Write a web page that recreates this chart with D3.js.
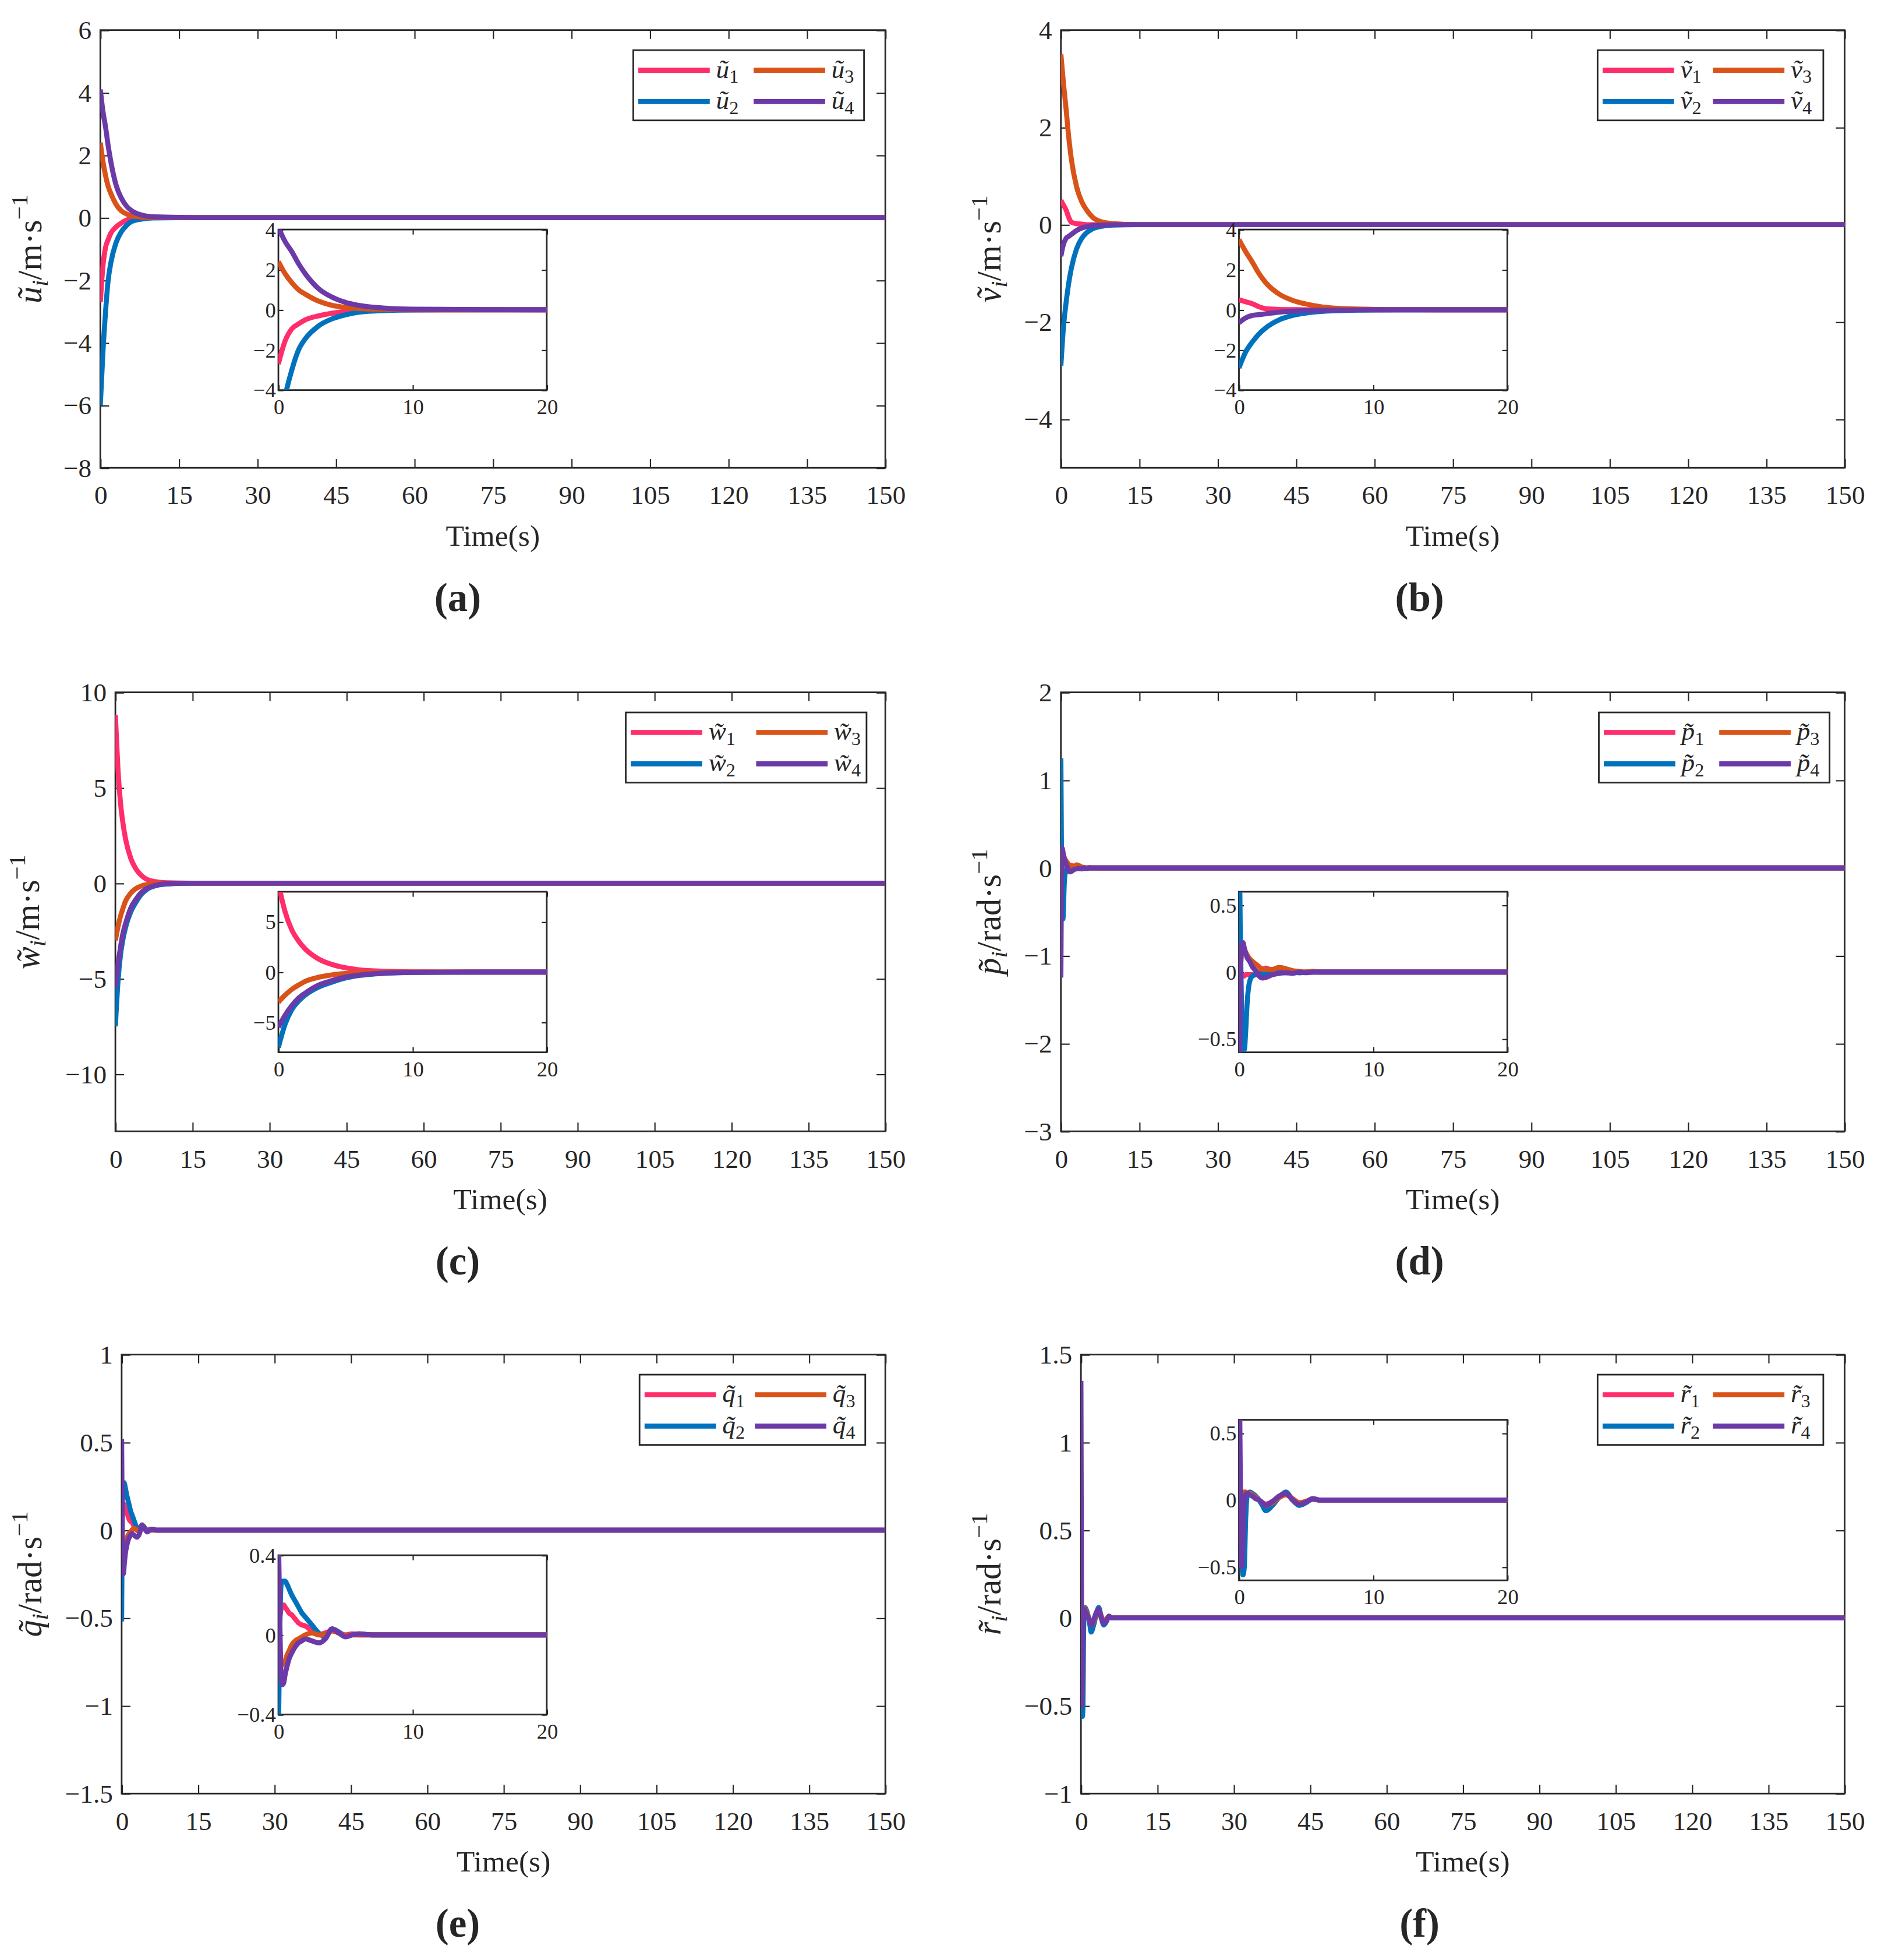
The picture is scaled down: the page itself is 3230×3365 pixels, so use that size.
<!DOCTYPE html>
<html>
<head>
<meta charset="utf-8">
<script src="https://cdn.jsdelivr.net/npm/d3@7/dist/d3.min.js"></script>
<style>
  body { margin: 0; background: #fff; }
  svg { display: block; }
  text { font-family: "Liberation Serif", "DejaVu Serif", serif; fill: #262626; }
</style>
</head>
<body>
<svg id="fig"></svg>
<script>
// ---- data ----
const tSlow = [0, 0.5, 1, 1.5, 2, 3, 4, 5, 6, 8, 10, 15, 20, 150];
const tFast = [0, 0.1, 0.2, 0.3, 0.4, 0.5, 0.6, 0.8, 1, 1.25, 1.5, 1.75, 2, 2.5, 3, 3.5, 4, 4.5, 5, 5.5, 6, 7, 8, 10, 20, 150];

const xTicks = [0, 15, 30, 45, 60, 75, 90, 105, 120, 135, 150];
const insetXTicks = [0, 10, 20];

// (a) surge velocity errors
const u1 = [-2.7, -1.55, -0.95, -0.7, -0.5, -0.3, -0.17, -0.08, -0.03, -0.01, 0, 0, 0, 0];
const u2 = [-6.0, -4.3, -3.0, -2.0, -1.45, -0.8, -0.45, -0.25, -0.12, -0.04, -0.01, 0, 0, 0];
const u3 = [2.4, 1.8, 1.35, 1.0, 0.78, 0.43, 0.22, 0.12, 0.06, 0.02, 0, 0, 0, 0];
const u4 = [4.1, 3.4, 2.9, 2.3, 1.8, 1.05, 0.63, 0.37, 0.22, 0.08, 0.03, 0.01, 0, 0];
const yTicksA = [-8, -6, -4, -2, 0, 2, 4, 6];
const insetYTicksA = [-4, -2, 0, 2, 4];

// (b) sway velocity errors
const v1 = [0.5, 0.4, 0.3, 0.15, 0.05, 0.02, 0.01, 0, 0, 0, 0, 0, 0, 0];
const v2 = [-2.9, -2.1, -1.6, -1.2, -0.9, -0.5, -0.28, -0.16, -0.09, -0.03, -0.01, 0, 0, 0];
const v3 = [3.5, 2.9, 2.37, 1.8, 1.35, 0.78, 0.47, 0.29, 0.16, 0.05, 0.02, 0, 0, 0];
const v4 = [-0.65, -0.4, -0.28, -0.24, -0.2, -0.12, -0.07, -0.04, -0.02, -0.01, 0, 0, 0, 0];
const yTicksB = [-4, -2, 0, 2, 4];
const insetYTicksB = [-4, -2, 0, 2, 4];

// (c) heave velocity errors
const w1 = [8.8, 6.0, 4.2, 3.1, 2.3, 1.3, 0.75, 0.42, 0.22, 0.07, 0.02, 0, 0, 0];
const w2 = [-7.5, -5.2, -3.75, -2.9, -2.3, -1.5, -1.0, -0.6, -0.35, -0.12, -0.04, 0, 0, 0];
const w3 = [-3.0, -2.3, -1.73, -1.3, -0.93, -0.52, -0.28, -0.15, -0.08, -0.02, 0, 0, 0, 0];
const w4 = [-5.5, -4.3, -3.35, -2.6, -2.1, -1.3, -0.85, -0.5, -0.3, -0.1, -0.03, 0, 0, 0];
const yTicksC = [-10, -5, 0, 5, 10];
const insetYTicksC = [-5, 0, 5];

// (d) roll rate errors
const p1 = [0.3, -0.02, -0.03, -0.03, -0.03, -0.02, -0.02, -0.02, -0.02, -0.01, 0, 0.02, 0.03, 0.01, 0, 0.005, 0, -0.005, 0, 0, 0, 0, 0, 0, 0, 0];
const p2 = [1.25, 0.3, -0.3, -0.52, -0.58, -0.45, -0.25, -0.07, -0.03, -0.02, -0.015, -0.01, -0.01, -0.01, -0.005, -0.005, 0, -0.005, 0, 0, 0, 0, 0, 0, 0, 0];
const p3 = [-0.3, 0, 0.15, 0.19, 0.17, 0.15, 0.13, 0.1, 0.08, 0.06, 0.04, 0.02, 0.02, 0.02, 0.035, 0.025, 0.01, 0.005, 0, 0.005, 0, 0, 0, 0, 0, 0];
const p4 = [-1.25, -0.2, 0.2, 0.22, 0.18, 0.14, 0.11, 0.08, 0.04, 0.01, -0.03, -0.045, -0.04, -0.02, -0.01, -0.005, -0.01, 0, -0.005, 0, 0, 0, 0, 0, 0, 0];
const yTicksD = [-3, -2, -1, 0, 1, 2];
const insetYTicksD = [-0.5, 0, 0.5];

// (e) pitch rate errors
const q1 = [0, 0.08, 0.13, 0.15, 0.15, 0.14, 0.13, 0.11, 0.1, 0.08, 0.06, 0.05, 0.045, 0.02, 0, 0.01, 0.02, 0.01, 0, 0.005, 0, 0, 0, 0, 0, 0];
const q2 = [-0.52, 0, 0.25, 0.27, 0.27, 0.27, 0.26, 0.23, 0.2, 0.17, 0.14, 0.11, 0.09, 0.05, 0.01, -0.01, 0.03, 0.015, -0.005, 0, 0.005, 0, 0, 0, 0, 0];
const q3 = [0, -0.08, -0.14, -0.15, -0.14, -0.13, -0.11, -0.08, -0.05, -0.03, -0.02, -0.01, 0, 0.01, 0, 0, 0.02, 0.01, -0.005, 0, 0, 0, 0, 0, 0, 0];
const q4 = [0.52, 0.1, -0.2, -0.25, -0.24, -0.2, -0.17, -0.12, -0.09, -0.06, -0.04, -0.03, -0.02, -0.03, -0.04, -0.02, 0.03, 0.01, -0.01, 0, 0.005, 0, 0, 0, 0, 0];
const yTicksE = [-1.5, -1, -0.5, 0, 0.5, 1];
const insetYTicksE = [-0.4, 0, 0.4];

// (f) yaw rate errors
const r1 = [-0.2, -0.3, -0.2, 0, 0.04, 0.05, 0.05, 0.05, 0.04, 0.02, 0, -0.02, -0.03, -0.01, 0.02, 0.04, 0.01, -0.02, -0.01, 0.005, 0, 0, 0, 0, 0, 0];
const r2 = [0, -0.2, -0.45, -0.56, -0.5, -0.15, 0.02, 0.06, 0.05, 0.03, 0, -0.04, -0.08, -0.04, 0.02, 0.06, 0, -0.04, -0.02, 0.01, 0, 0, 0, 0, 0, 0];
const r3 = [-0.3, -0.15, 0, 0.05, 0.06, 0.06, 0.05, 0.05, 0.04, 0.02, 0, -0.02, -0.04, -0.02, 0.02, 0.04, 0.01, -0.02, -0.01, 0.01, 0, 0, 0, 0, 0, 0];
const r4 = [1.35, 0.2, -0.5, -0.3, 0, 0.04, 0.05, 0.04, 0.03, 0.01, 0, -0.02, -0.04, -0.01, 0.03, 0.05, 0, -0.03, -0.015, 0.01, 0, 0, 0, 0, 0, 0];
const yTicksF = [-1, -0.5, 0, 0.5, 1, 1.5];
const insetYTicksF = [-0.5, 0, 0.5];

const seriesColors = ['#ff2d6a', '#0072bd', '#d95319', '#6b3aa8'];

// ---- figure ----
const W = 1500, H = 1562.7;
const FONT = '"Liberation Serif", "DejaVu Serif", serif';
const svg = d3.select('#fig')
    .attr('width', 3230)
    .attr('height', 3365)
    .attr('viewBox', `0 0 ${W} ${H}`);

const fmt = d3.format('~g');

class ErrorPanel {

  constructor(_config, _data) {
    this.config = _config;
    this.data = _data;
    this.initVis();
  }

  initVis() {
    let vis = this;
    let c = vis.config;

    vis.g = svg.append('g').attr('class', 'panel-' + c.id);

    // main axes
    vis.x = d3.scaleLinear().domain([0, 150]).range([c.plot.l, c.plot.r]);
    vis.y = d3.scaleLinear().domain(c.yDomain).range([c.plot.b, c.plot.t]);
    vis.drawAxes(vis.x, vis.y, c.plot, xTicks, c.yTicks, 7, 21, 14, 7, 'main');
    vis.drawLines(vis.x, vis.y, c.plot, 'main', 4);

    // inset
    vis.xi = d3.scaleLinear().domain([0, 20]).range([c.inset.l, c.inset.r]);
    vis.yi = d3.scaleLinear().domain(c.insetDomain).range([c.inset.b, c.inset.t]);
    vis.g.append('rect')
        .attr('x', c.inset.l).attr('y', c.inset.t)
        .attr('width', c.inset.r - c.inset.l).attr('height', c.inset.b - c.inset.t)
        .attr('fill', '#fff');
    vis.drawAxes(vis.xi, vis.yi, c.inset, insetXTicks, c.insetYTicks, 4, 17, 7, 2, 'inset');
    vis.drawLines(vis.xi, vis.yi, c.inset, 'inset', 4);

    vis.drawLegend();
    vis.drawLabels();
  }

  drawAxes(x, y, box, xt, yt, tick, fs, xpad, ypad, key) {
    let vis = this;
    let g = vis.g.append('g').attr('class', key + '-axes');

    let parts = [
      g.append('g')
          .attr('transform', `translate(0,${box.b})`)
          .call(d3.axisBottom(x).tickValues(xt).tickFormat(fmt).tickSize(-tick).tickSizeOuter(0).tickPadding(xpad)),
      g.append('g')
          .attr('transform', `translate(${box.l},0)`)
          .call(d3.axisLeft(y).tickValues(yt).tickFormat(fmt).tickSize(-tick).tickSizeOuter(0).tickPadding(ypad)),
      g.append('g')
          .attr('transform', `translate(0,${box.t})`)
          .call(d3.axisTop(x).tickValues(xt).tickFormat('').tickSize(-tick).tickSizeOuter(0)),
      g.append('g')
          .attr('transform', `translate(${box.r},0)`)
          .call(d3.axisRight(y).tickValues(yt).tickFormat('').tickSize(-tick).tickSizeOuter(0))
    ];
    parts.forEach(p => p.attr('font-family', FONT).attr('font-size', fs));

    g.selectAll('.domain').remove();
    g.selectAll('.tick line').attr('stroke', '#262626').attr('stroke-width', 1);
    g.selectAll('.tick text')
        .attr('fill', '#262626')
        .attr('font-family', FONT)
        .style('font-size', fs + 'px');

    g.append('rect')
        .attr('x', box.l).attr('y', box.t)
        .attr('width', box.r - box.l).attr('height', box.b - box.t)
        .attr('fill', 'none')
        .attr('stroke', '#262626')
        .attr('stroke-width', 1.3);
  }

  drawLines(x, y, box, key, sw) {
    let vis = this;
    let clipId = 'clip-' + vis.config.id + '-' + key;
    vis.g.append('clipPath').attr('id', clipId)
      .append('rect')
        .attr('x', box.l).attr('y', box.t)
        .attr('width', box.r - box.l).attr('height', box.b - box.t);

    let line = d3.line()
        .x(d => x(d[0]))
        .y(d => y(d[1]))
        .curve(d3.curveMonotoneX);

    let t = vis.data.t;
    vis.g.append('g')
        .attr('clip-path', `url(#${clipId})`)
      .selectAll('path')
      .data(vis.data.series)
      .join('path')
        .attr('fill', 'none')
        .attr('stroke', (d, i) => seriesColors[i])
        .attr('stroke-width', sw)
        .attr('stroke-linejoin', 'round')
        .attr('d', d => line(t.map((tt, k) => [tt, d[k]])));
  }

  drawLegend() {
    let vis = this;
    let c = vis.config;
    let L = c.legend;
    let top = c.plot.t + 16;
    let lg = vis.g.append('g').attr('class', 'legend');

    lg.append('rect')
        .attr('x', L.x).attr('y', top)
        .attr('width', L.w).attr('height', 56)
        .attr('fill', '#fff')
        .attr('stroke', '#262626')
        .attr('stroke-width', 1.3);

    // column-major order: 1,2 in column one; 3,4 in column two
    let slots = [
      {x: L.x + 4, y: top + 16},
      {x: L.x + 4, y: top + 41},
      {x: L.x + L.w - 88, y: top + 16},
      {x: L.x + L.w - 88, y: top + 41}
    ];
    slots.forEach((s, i) => {
      lg.append('line')
          .attr('x1', s.x).attr('x2', s.x + 57)
          .attr('y1', s.y).attr('y2', s.y)
          .attr('stroke', seriesColors[i])
          .attr('stroke-width', 4);
      let tx = lg.append('text')
          .attr('x', s.x + 62).attr('y', s.y + 6)
          .style('font-size', '21px');
      tx.append('tspan').style('font-style', 'italic').text(c.letter);
      tx.append('tspan').attr('dy', 4).style('font-size', '15px').text(i + 1);
    });
  }

  drawLabels() {
    let vis = this;
    let c = vis.config;
    let cx = (c.plot.l + c.plot.r) / 2;
    let cy = (c.plot.t + c.plot.b) / 2;

    vis.g.append('text')
        .attr('x', cx).attr('y', c.plot.b + 62)
        .attr('text-anchor', 'middle')
        .style('font-size', '24px')
        .text('Time(s)');

    let yl = vis.g.append('text')
        .attr('transform', `translate(${c.ylabX},${cy}) rotate(-90)`)
        .attr('text-anchor', 'middle')
        .style('font-size', '27px');
    yl.append('tspan').style('font-style', 'italic').text(c.letter);
    yl.append('tspan').attr('dy', 5).style('font-style', 'italic').style('font-size', '19px').text('i');
    yl.append('tspan').attr('dy', -5).text('/' + c.unit);
    yl.append('tspan').attr('dy', -11).style('font-size', '19px').text('\u22121');

    vis.g.append('text')
        .attr('x', c.tagX).attr('y', c.plot.b + 114)
        .attr('text-anchor', 'middle')
        .style('font-size', '32px')
        .style('font-weight', 'bold')
        .text('(' + c.id + ')');
  }
}

const panelDefs = [
  {id: 'a', letter: '\u0169', unit: 'm\u00b7s', data: [u1, u2, u3, u4], t: tSlow,
   yDomain: [-8, 6], yTicks: yTicksA, insetDomain: [-4, 4], insetYTicks: insetYTicksA,
   plot: {l: 80, r: 706, t: 24, b: 373}, inset: {l: 222, r: 436, t: 183, b: 311},
   legend: {x: 505, w: 184}, ylabX: 33, tagX: 365},
  {id: 'b', letter: '\u1e7d', unit: 'm\u00b7s', data: [v1, v2, v3, v4], t: tSlow,
   yDomain: [-5, 4], yTicks: yTicksB, insetDomain: [-4, 4], insetYTicks: insetYTicksB,
   plot: {l: 846, r: 1471, t: 24, b: 373}, inset: {l: 988, r: 1202, t: 183, b: 311},
   legend: {x: 1274, w: 180}, ylabX: 798, tagX: 1132},
  {id: 'c', letter: 'w\u0303', unit: 'm\u00b7s', data: [w1, w2, w3, w4], t: tSlow,
   yDomain: [-13, 10], yTicks: yTicksC, insetDomain: [-8, 8], insetYTicks: insetYTicksC,
   plot: {l: 92, r: 706, t: 552, b: 902}, inset: {l: 222, r: 436, t: 711, b: 839},
   legend: {x: 499, w: 192}, ylabX: 31, tagX: 365},
  {id: 'd', letter: 'p\u0303', unit: 'rad\u00b7s', data: [p1, p2, p3, p4], t: tFast,
   yDomain: [-3, 2], yTicks: yTicksD, insetDomain: [-0.6, 0.6], insetYTicks: insetYTicksD,
   plot: {l: 846, r: 1471, t: 552, b: 902}, inset: {l: 988, r: 1202, t: 711, b: 839},
   legend: {x: 1275, w: 184}, ylabX: 798, tagX: 1132},
  {id: 'e', letter: 'q\u0303', unit: 'rad\u00b7s', data: [q1, q2, q3, q4], t: tFast,
   yDomain: [-1.5, 1], yTicks: yTicksE, insetDomain: [-0.4, 0.4], insetYTicks: insetYTicksE,
   plot: {l: 97, r: 706, t: 1080, b: 1430}, inset: {l: 222, r: 436, t: 1240, b: 1367},
   legend: {x: 510, w: 180}, ylabX: 33, tagX: 365},
  {id: 'f', letter: 'r\u0303', unit: 'rad\u00b7s', data: [r1, r2, r3, r4], t: tFast,
   yDomain: [-1, 1.5], yTicks: yTicksF, insetDomain: [-0.6, 0.6], insetYTicks: insetYTicksF,
   plot: {l: 862, r: 1471, t: 1080, b: 1430}, inset: {l: 988, r: 1202, t: 1132, b: 1260},
   legend: {x: 1274, w: 180}, ylabX: 798, tagX: 1132}
];

panelDefs.forEach(p => new ErrorPanel(p, {t: p.t, series: p.data}));
</script>
</body>
</html>
